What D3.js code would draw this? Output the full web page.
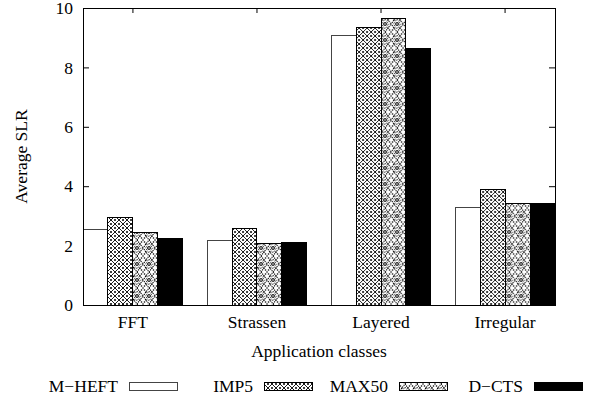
<!DOCTYPE html>
<html>
<head>
<meta charset="utf-8">
<script src="https://cdn.jsdelivr.net/npm/d3@7"></script>
<style>
  body { margin: 0; background: #fff; }
  svg { font-family: "Liberation Serif", "Times New Roman", serif; }
</style>
</head>
<body>
<div id="chart"></div>
<script>
// data
var categories = ["FFT", "Strassen", "Layered", "Irregular"];
var seriesNames = ["M\u2212HEFT", "IMP5", "MAX50", "D\u2212CTS"];
var mheft = [2.55, 2.16, 9.07, 3.28];
var imp5  = [2.96, 2.57, 9.36, 3.89];
var max50 = [2.45, 2.07, 9.63, 3.43];
var dcts  = [2.24, 2.12, 8.65, 3.41];
var yTicks = [0, 2, 4, 6, 8, 10];

var series = [mheft, imp5, max50, dcts];
var fills = ["#fff", "url(#pImp)", "url(#pMax)", "#000"];
var strokes = ["#444", "#000", "#000", "#000"];

var W = 596, H = 399;
// note: "top" is taken by window.top, so plot edges get their own names
var plotL = 83, plotR = 555, plotT = 8, plotB = 305;

var svg = d3.select("#chart").append("svg")
    .attr("width", W)
    .attr("height", H);

//<------ patterns ------>
var defs = svg.append("defs");

var pImp = defs.append("pattern")
    .attr("id", "pImp")
    .attr("patternUnits", "userSpaceOnUse")
    .attr("width", 8).attr("height", 8);
pImp.append("rect").attr("width", 8).attr("height", 8).attr("fill", "#fff");
pImp.append("path")
    .attr("d", "M0,0L8,8M8,0L0,8")
    .attr("stroke", "#000").attr("stroke-width", 0.9);
[[4, 0], [0, 4], [8, 4], [4, 8]].forEach(function(p) {
    pImp.append("circle").attr("cx", p[0]).attr("cy", p[1]).attr("r", 1).attr("fill", "#000");
});

var pMax = defs.append("pattern")
    .attr("id", "pMax")
    .attr("patternUnits", "userSpaceOnUse")
    .attr("width", 12).attr("height", 16);
pMax.append("rect").attr("width", 12).attr("height", 16).attr("fill", "#fff");
pMax.append("path")
    .attr("d", "M6,0L12,8L6,16L0,8Z")
    .attr("fill", "none")
    .attr("stroke", "#000").attr("stroke-width", 1.1)
    .attr("stroke-dasharray", "1.2,0.9");
pMax.append("path")
    .attr("d", "M6,3L9.5,8L6,13L2.5,8Z")
    .attr("fill", "none")
    .attr("stroke", "#000").attr("stroke-width", 0.9)
    .attr("stroke-dasharray", "1,1");
pMax.append("circle").attr("cx", 6).attr("cy", 8).attr("r", 1.6)
    .attr("fill", "none").attr("stroke", "#000").attr("stroke-width", 0.8);
[[0, 0], [12, 0], [0, 16], [12, 16], [3, 4], [9, 4], [3, 12], [9, 12],
 [1.5, 2], [10.5, 2], [1.5, 14], [10.5, 14], [6, 8]].forEach(function(p) {
    pMax.append("circle").attr("cx", p[0]).attr("cy", p[1]).attr("r", 0.8).attr("fill", "#000");
});

//<------ scales ------>
var x = d3.scaleBand()
    .domain(categories)
    .range([plotL, plotR])
    .paddingInner(0.195)
    .paddingOuter(0);

var xs = d3.scaleBand()
    .domain(d3.range(series.length))
    .range([0, x.bandwidth()]);

var y = d3.scaleLinear()
    .domain([0, 10])
    .range([plotB, plotT]);

//<------ axes ------>
var yAxis = svg.append("g")
    .attr("transform", "translate(" + plotL + ",0)")
    .call(d3.axisLeft(y).tickValues(yTicks).tickSizeInner(-6).tickSizeOuter(0).tickPadding(10));
yAxis.select(".domain").remove();

var yAxisR = svg.append("g")
    .attr("transform", "translate(" + plotR + ",0)")
    .call(d3.axisRight(y).tickValues(yTicks).tickSizeInner(-6).tickSizeOuter(0).tickFormat(""));
yAxisR.select(".domain").remove();

var xAxis = svg.append("g")
    .attr("transform", "translate(0," + plotB + ")")
    .call(d3.axisBottom(x).tickSizeInner(-5).tickSizeOuter(0).tickPadding(11));
xAxis.select(".domain").remove();

var xAxisT = svg.append("g")
    .attr("transform", "translate(0," + plotT + ")")
    .call(d3.axisTop(x).tickSizeInner(-5).tickSizeOuter(0).tickFormat(""));
xAxisT.select(".domain").remove();

svg.selectAll(".tick line").attr("stroke", "#000");
svg.selectAll(".tick text")
    .attr("fill", "#000")
    .style("font-size", "17.5px")
    .style("font-family", "'Liberation Serif', serif");
yAxis.selectAll(".tick text").attr("dy", "0.33em");

//<------ bars ------>
var groups = svg.append("g").selectAll("g")
    .data(categories)
    .enter().append("g")
    .attr("transform", function(d) { return "translate(" + x(d) + ",0)"; });

groups.selectAll("rect")
    .data(function(d, i) { return series.map(function(s, j) { return { s: j, v: s[i] }; }); })
    .enter().append("rect")
    .attr("x", function(d) { return xs(d.s); })
    .attr("y", function(d) { return y(d.v); })
    .attr("width", xs.bandwidth())
    .attr("height", function(d) { return y(0) - y(d.v); })
    .attr("fill", function(d) { return fills[d.s]; })
    .attr("stroke", function(d) { return strokes[d.s]; })
    .attr("stroke-width", 1)
    .attr("shape-rendering", "crispEdges");

// frame
svg.append("rect")
    .attr("x", plotL).attr("y", plotT)
    .attr("width", plotR - plotL).attr("height", plotB - plotT)
    .attr("fill", "none")
    .attr("stroke", "#000")
    .attr("stroke-width", 1)
    .attr("shape-rendering", "crispEdges");

//<------ titles ------>
svg.append("text")
    .attr("x", (plotL + plotR) / 2)
    .attr("y", 357)
    .attr("text-anchor", "middle")
    .style("font-size", "17.5px")
    .text("Application classes");

svg.append("text")
    .attr("transform", "translate(27," + (plotT + plotB) / 2 + ") rotate(-90)")
    .attr("text-anchor", "middle")
    .style("font-size", "17.5px")
    .text("Average SLR");

//<------ legend ------>
var legend = svg.append("g").selectAll("g")
    .data(seriesNames)
    .enter().append("g")
    .attr("transform", function(d, i) { return "translate(" + (129 + i * 135) + ",0)"; });

legend.append("text")
    .attr("x", -11)
    .attr("y", 392)
    .attr("text-anchor", "end")
    .style("font-size", "17.5px")
    .text(function(d) { return d; });

legend.append("rect")
    .attr("x", 0).attr("y", 382)
    .attr("width", 48).attr("height", 8)
    .attr("fill", function(d, i) { return fills[i]; })
    .attr("stroke", function(d, i) { return strokes[i]; })
    .attr("stroke-width", 1)
    .attr("shape-rendering", "crispEdges");
</script>
</body>
</html>
